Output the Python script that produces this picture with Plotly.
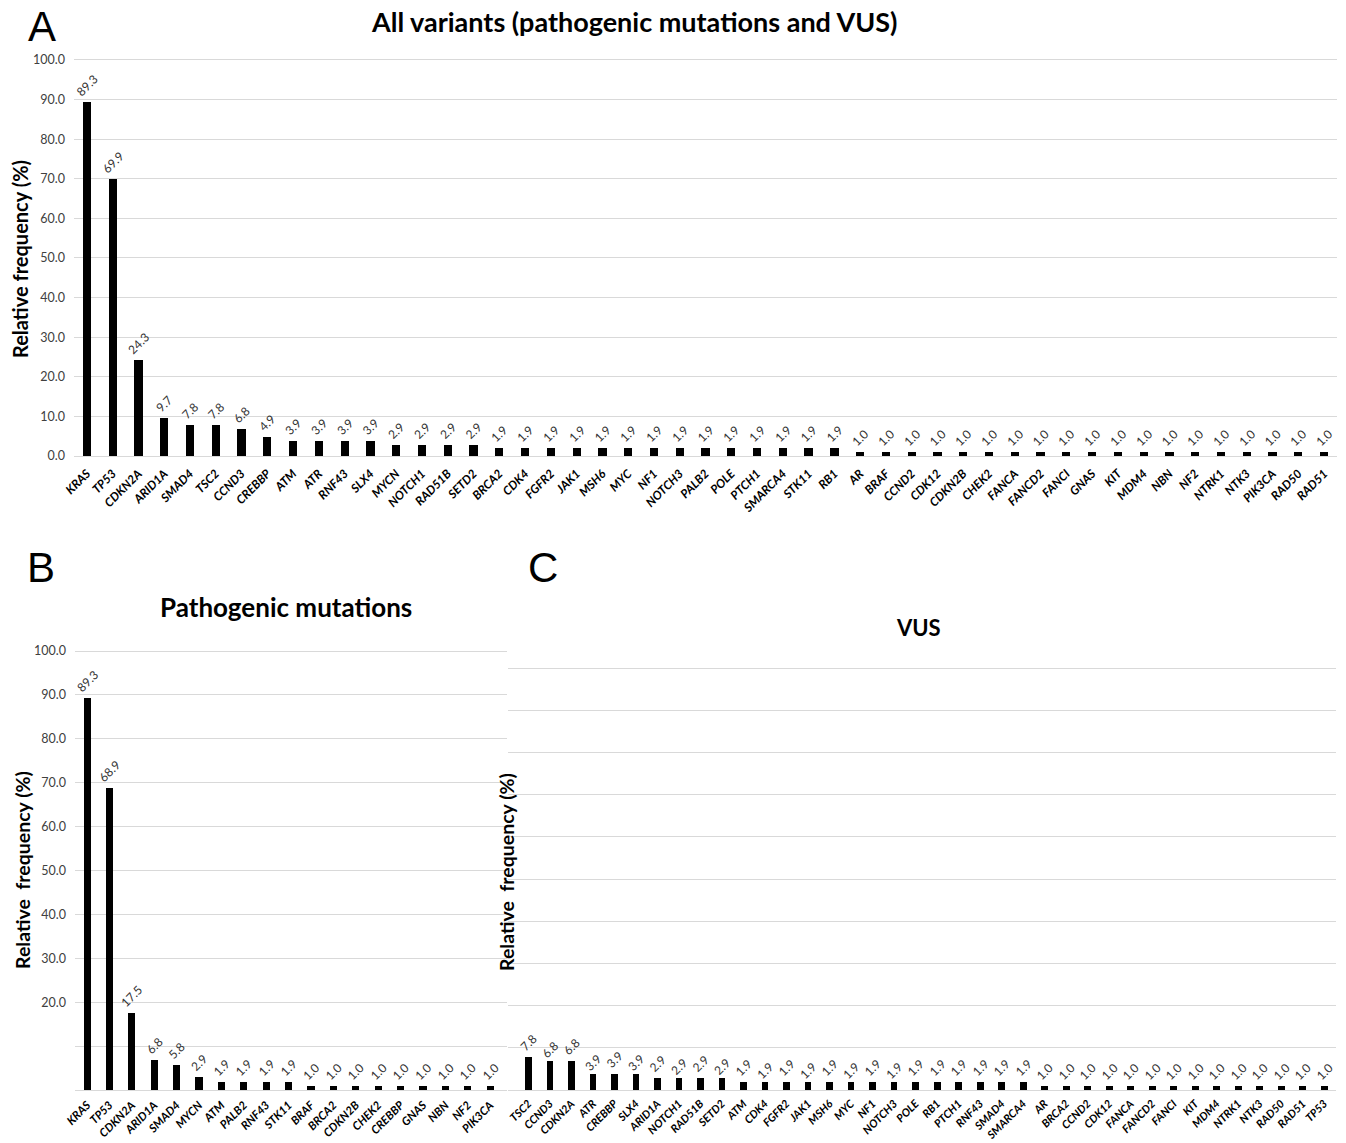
import plotly.graph_objects as go

W, H = 1346, 1143

# ---------------- Data ----------------
genes_all = ["KRAS", "TP53", "CDKN2A", "ARID1A", "SMAD4", "TSC2", "CCND3", "CREBBP",
             "ATM", "ATR", "RNF43", "SLX4", "MYCN", "NOTCH1", "RAD51B", "SETD2",
             "BRCA2", "CDK4", "FGFR2", "JAK1", "MSH6", "MYC", "NF1", "NOTCH3", "PALB2",
             "POLE", "PTCH1", "SMARCA4", "STK11", "RB1", "AR", "BRAF", "CCND2", "CDK12",
             "CDKN2B", "CHEK2", "FANCA", "FANCD2", "FANCI", "GNAS", "KIT", "MDM4", "NBN",
             "NF2", "NTRK1", "NTK3", "PIK3CA", "RAD50", "RAD51"]
freq_all = [89.3, 69.9, 24.3, 9.7, 7.8, 7.8, 6.8, 4.9,
            3.9, 3.9, 3.9, 3.9, 2.9, 2.9, 2.9, 2.9,
            1.9, 1.9, 1.9, 1.9, 1.9, 1.9, 1.9, 1.9, 1.9,
            1.9, 1.9, 1.9, 1.9, 1.9, 1.0, 1.0, 1.0, 1.0,
            1.0, 1.0, 1.0, 1.0, 1.0, 1.0, 1.0, 1.0, 1.0,
            1.0, 1.0, 1.0, 1.0, 1.0, 1.0]

genes_path = ["KRAS", "TP53", "CDKN2A", "ARID1A", "SMAD4", "MYCN", "ATM", "PALB2", "RNF43",
              "STK11", "BRAF", "BRCA2", "CDKN2B", "CHEK2", "CREBBP", "GNAS", "NBN", "NF2", "PIK3CA"]
freq_path = [89.3, 68.9, 17.5, 6.8, 5.8, 2.9, 1.9, 1.9, 1.9,
             1.9, 1.0, 1.0, 1.0, 1.0, 1.0, 1.0, 1.0, 1.0, 1.0]

genes_vus = ["TSC2", "CCND3", "CDKN2A", "ATR", "CREBBP", "SLX4", "ARID1A", "NOTCH1", "RAD51B",
             "SETD2", "ATM", "CDK4", "FGFR2", "JAK1", "MSH6", "MYC", "NF1", "NOTCH3", "POLE",
             "RB1", "PTCH1", "RNF43", "SMAD4", "SMARCA4", "AR", "BRCA2", "CCND2", "CDK12",
             "FANCA", "FANCD2", "FANCI", "KIT", "MDM4", "NTRK1", "NTK3", "RAD50", "RAD51", "TP53"]
freq_vus = [7.8, 6.8, 6.8, 3.9, 3.9, 3.9, 2.9, 2.9, 2.9,
            2.9, 1.9, 1.9, 1.9, 1.9, 1.9, 1.9, 1.9, 1.9, 1.9,
            1.9, 1.9, 1.9, 1.9, 1.9, 1.0, 1.0, 1.0, 1.0,
            1.0, 1.0, 1.0, 1.0, 1.0, 1.0, 1.0, 1.0, 1.0, 1.0]

y_ticks = [0, 10, 20, 30, 40, 50, 60, 70, 80, 90, 100]
y_ticktext_A = [f"{v:.1f}" for v in y_ticks]
y_ticktext_B = ["", ""] + [f"{v:.1f}" for v in y_ticks[2:]]

FONT = "Lato, 'Open Sans', sans-serif"
GRID = "#d9d9d9"

fig = go.Figure()


def add_bars(genes, freq, xa, ya):
    fig.add_trace(go.Bar(
        x=list(range(len(genes))), y=freq,
        marker=dict(color="black", line=dict(width=0)),
        width=0.32,
        text=[f"{v:.1f}" for v in freq],
        textposition="outside", textangle=-45, constraintext="none",
        textfont=dict(family=FONT, size=12, color="#333333"),
        cliponaxis=False,
        xaxis=xa, yaxis=ya, showlegend=False,
    ))


add_bars(genes_all, freq_all, "x", "y")
add_bars(genes_path, freq_path, "x2", "y2")
add_bars(genes_vus, freq_vus, "x3", "y3")


def px_x(p):
    return p / W


def px_y(p):
    return 1 - p / H


YMAX = 100.5

xcommon = dict(showgrid=False, zeroline=False, showline=True, linecolor=GRID, linewidth=1,
               tickangle=-45, ticks="", automargin=False, ticklabelstandoff=5,
               tickfont=dict(family=FONT, size=12, color="black"))
ycommon = dict(range=[0, YMAX], tickvals=y_ticks, showgrid=True, gridcolor=GRID, gridwidth=1,
               zeroline=False, showline=False, ticks="", automargin=False, ticklabelstandoff=8,
               tickfont=dict(family=FONT, size=12.5, color="#404040"))

fig.update_layout(
    width=W, height=H, margin=dict(l=0, r=0, t=0, b=0, pad=0, autoexpand=False),
    paper_bgcolor="white", plot_bgcolor="white", bargap=0,
    font=dict(family=FONT),
    xaxis=dict(xcommon, domain=[px_x(74), px_x(1337)], range=[-0.5, len(genes_all) - 0.5],
               tickvals=list(range(len(genes_all))),
               ticktext=[f"<b><i>{g}</i></b>" for g in genes_all], anchor="y"),
    yaxis=dict(ycommon, domain=[px_y(456), px_y(58)], ticktext=y_ticktext_A, anchor="x"),
    xaxis2=dict(xcommon, domain=[px_x(75), px_x(507)], range=[-0.54, len(genes_path) - 0.25],
                tickvals=list(range(len(genes_path))), ticklabelstandoff=3,
                tickfont=dict(family=FONT, size=11.5, color="black"),
                ticktext=[f"<b><i>{g}</i></b>" for g in genes_path], anchor="y2"),
    yaxis2=dict(ycommon, domain=[px_y(1090), px_y(648.8)], ticktext=y_ticktext_B, anchor="x2"),
    xaxis3=dict(xcommon, domain=[px_x(508), px_x(1336)], range=[-0.95, len(genes_vus) - 0.45],
                tickvals=list(range(len(genes_vus))), ticklabelstandoff=2,
                tickfont=dict(family=FONT, size=11, color="black"),
                ticktext=[f"<b><i>{g}</i></b>" for g in genes_vus], anchor="y3"),
    yaxis3=dict(ycommon, domain=[px_y(1090), px_y(665.9)], showticklabels=False, anchor="x3"),
)

ann = []
# panel letters
for letter, x, y in [("A", 42, 27), ("B", 41, 567), ("C", 543, 567)]:
    ann.append(dict(text=letter, x=px_x(x), y=px_y(y), xref="paper", yref="paper",
                    showarrow=False, xanchor="center", yanchor="middle",
                    font=dict(family="Liberation Sans, Arial, sans-serif", size=42, color="black")))
# titles
ann.append(dict(text="<b>All variants (pathogenic mutations and VUS)</b>", x=px_x(634), y=px_y(22),
                xref="paper", yref="paper", showarrow=False, xanchor="center", yanchor="middle",
                font=dict(family=FONT, size=27, color="black")))
ann.append(dict(text="<b>Pathogenic mutations</b>", x=px_x(286), y=px_y(607),
                xref="paper", yref="paper", showarrow=False, xanchor="center", yanchor="middle",
                font=dict(family=FONT, size=26, color="black")))
ann.append(dict(text="<b>VUS</b>", x=px_x(918), y=px_y(627),
                xref="paper", yref="paper", showarrow=False, xanchor="center", yanchor="middle",
                font=dict(family=FONT, size=22, color="black")))
# y-axis titles
ann.append(dict(text="<b>Relative frequency (%)</b>", x=px_x(20), y=px_y(259), textangle=-90,
                xref="paper", yref="paper", showarrow=False, xanchor="center", yanchor="middle",
                font=dict(family=FONT, size=20, color="black")))
ann.append(dict(text="<b>Relative  frequency (%)</b>", x=px_x(22), y=px_y(870), textangle=-90,
                xref="paper", yref="paper", showarrow=False, xanchor="center", yanchor="middle",
                font=dict(family=FONT, size=19.5, color="black")))
ann.append(dict(text="<b>Relative  frequency (%)</b>", x=px_x(506), y=px_y(872), textangle=-90,
                xref="paper", yref="paper", showarrow=False, xanchor="center", yanchor="middle",
                font=dict(family=FONT, size=19.5, color="black")))
fig.update_layout(annotations=ann)

fig.write_html("out.html", config={"displayModeBar": False},
               post_script="document.body.style.margin='0';")
